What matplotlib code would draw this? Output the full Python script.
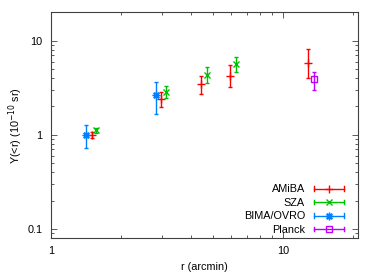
import matplotlib
matplotlib.use("Agg")
import matplotlib.pyplot as plt
from matplotlib.legend_handler import HandlerBase
from matplotlib.lines import Line2D
from matplotlib.ticker import FixedLocator, FixedFormatter, LogLocator, NullFormatter

plt.rcParams['font.family'] = ['Liberation Sans', 'DejaVu Sans']
plt.rcParams['font.size'] = 7.8

# r (arcmin), Y(<r) in 1e-10 sr, lower / upper error bar ends
amiba_r = [1.50, 2.99, 4.46, 5.93, 12.9]
amiba_y = [1.00, 2.40, 3.43, 4.21, 5.74]
amiba_lo = [0.93, 1.97, 2.71, 3.19, 4.00]
amiba_hi = [1.08, 2.84, 4.24, 5.46, 8.20]

sza_r = [1.57, 3.13, 4.72, 6.29]
sza_y = [1.11, 2.82, 4.35, 5.65]
sza_lo = [1.05, 2.44, 3.55, 4.68]
sza_hi = [1.18, 3.29, 5.20, 6.63]

bima_r = [1.415, 2.83]
bima_y = [1.00, 2.66]
bima_lo = [0.72, 1.67]
bima_hi = [1.28, 3.63]

planck_r = [13.6]
planck_y = [3.88]
planck_lo = [3.01]
planck_hi = [4.60]

series = [
    ("AMiBA", amiba_r, amiba_y, amiba_lo, amiba_hi, '#ff0000', '+', 6),
    ("SZA", sza_r, sza_y, sza_lo, sza_hi, '#00c000', 'x', 4.5),
    ("BIMA/OVRO", bima_r, bima_y, bima_lo, bima_hi, '#0080ff', (8, 2, 0), 5.5),
    ("Planck", planck_r, planck_y, planck_lo, planck_hi, '#c000ff', 's', 4.5),
]


class GnuplotKey(HandlerBase):
    # horizontal sample line with end caps and the point in the middle
    def create_artists(self, legend, orig, xd, yd, width, height, fontsize, trans):
        col = orig.get_color()
        y0 = height / 2 - yd
        x0, x1 = -xd, -xd + width
        cap = 0.22 * fontsize
        line = Line2D([x0, x1], [y0, y0], color=col, lw=1.0)
        c1 = Line2D([x0, x0], [y0 - cap, y0 + cap], color=col, lw=1.0)
        c2 = Line2D([x1, x1], [y0 - cap, y0 + cap], color=col, lw=1.0)
        pt = Line2D([(x0 + x1) / 2], [y0], linestyle='none', marker=orig.get_marker(),
                    ms=orig.get_markersize(), mew=1.0, color=col,
                    mfc=orig.get_markerfacecolor())
        arts = [line, c1, c2, pt]
        for a in arts:
            a.set_transform(trans)
        return arts


fig = plt.figure(figsize=(3.74, 2.8), dpi=100)
ax = fig.add_axes([0.136, 0.15, 0.82, 0.806])

handles = []
for name, r, y, lo, hi, col, mk, ms in series:
    yerr = [[v - l for v, l in zip(y, lo)], [h - v for v, h in zip(y, hi)]]
    ax.errorbar(r, y, yerr=yerr, fmt='none', ecolor=col, elinewidth=1.0,
                capsize=1.6, capthick=1.0)
    mfc = 'none' if mk == 's' else col
    pts, = ax.plot(r, y, linestyle='none', marker=mk, color=col, ms=ms, mew=1.0, mfc=mfc)
    handles.append(pts)

ax.set_xscale('log')
ax.set_yscale('log')
ax.set_xlim(1, 21)
ax.set_ylim(0.08, 20)

ax.xaxis.set_major_locator(FixedLocator([1, 10]))
ax.xaxis.set_major_formatter(FixedFormatter(['1', '10']))
ax.yaxis.set_major_locator(FixedLocator([0.1, 1, 10]))
ax.yaxis.set_major_formatter(FixedFormatter(['0.1', '1', '10']))
ax.xaxis.set_minor_locator(LogLocator(subs=range(2, 10)))
ax.yaxis.set_minor_locator(LogLocator(subs=range(2, 10)))
ax.xaxis.set_minor_formatter(NullFormatter())
ax.yaxis.set_minor_formatter(NullFormatter())
ax.tick_params(which='both', direction='in', top=True, right=True, width=0.6,
               color='#404040')
ax.tick_params(which='major', length=4, pad=6)
ax.tick_params(which='minor', length=2)
for s in ax.spines.values():
    s.set_color('#404040')
    s.set_linewidth(0.8)

ax.set_xlabel('r (arcmin)', labelpad=4)
ax.set_ylabel('Y(<r) (10$^{-10}$ sr)', labelpad=2)

leg = ax.legend(handles, [s[0] for s in series], loc='lower right',
                bbox_to_anchor=(0.97, -0.005), borderaxespad=0,
                frameon=False, markerfirst=False, handlelength=2.8,
                handletextpad=0.8, labelspacing=0.32,
                handler_map={Line2D: GnuplotKey()})

fig.savefig('out.png', dpi=100)
